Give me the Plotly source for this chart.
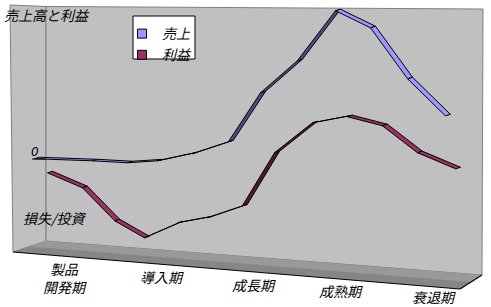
import plotly.graph_objects as go

# ---------------- data ----------------
SERIES_NAMES = ["売上", "利益"]
# time position (stage units) and value (relative, peak of sales = 100)
SALES_T = [0, 1.66, 2.66, 3.51, 4.51, 5.54, 6.46, 7.51, 8.6, 9.6, 10.66, 11.74]
SALES_V = [0, -1.4, -2.7, -1.4, 3.4, 11.5, 44.6, 66.2, 100, 88.5, 54, 29]
PROFIT_T = [0.37, 1.37, 2.29, 3.14, 4.09, 4.94, 5.94, 6.86, 7.94, 8.94, 9.94, 10.94, 12.03]
PROFIT_V = [-9.5, -19.6, -41.9, -53.4, -43.2, -39.9, -31.8, 4.1, 24.3, 28.4, 22.3, 4.1, -6.8]
STAGE_LABELS = ["製品<br>開発期", "導入期", "成長期", "成熟期", "衰退期"]
STAGE_T = [0.8, 3.57, 6.2, 8.69, 11.34]
STAGE_LABEL_Y = [278, 277, 285, 291, 297]   # label centre, pixels from top
Y_TITLE_TOP = "売上高と利益"
Y_TITLE_BOTTOM = "損失/投資"
ZERO_LABEL = "0"

# ---------------- geometry / style ----------------
W, H = 491, 307
X0_PX, X_SCALE = 37, 35.0      # px of t=0, px per t unit
Y0_PX, Y_SCALE = 158, 1.48     # px of v=0, px per value unit
FONT = "Noto Sans CJK JP"

def px(x, y):
    return x / W, 1 - y / H

def path(points):
    s = ""
    for i, (x, y) in enumerate(points):
        a, b = px(x, y)
        s += ("M" if i == 0 else "L") + f"{a:.5f},{b:.5f} "
    return s + "Z"

fig = go.Figure()

# ribbon segments (3-D look): offset in depth direction (pixels, y down)
OX_PX, OY_PX = 5.0, -1.5
odt, odv = OX_PX / X_SCALE, -OY_PX / Y_SCALE

def add_ribbon(ts, vs, light, dark):
    for i in range(len(ts) - 1):
        t0, v0, t1, v1 = ts[i], vs[i], ts[i + 1], vs[i + 1]
        dxp = (t1 - t0) * X_SCALE
        dyp = -(v1 - v0) * Y_SCALE
        cross = dxp * OY_PX - dyp * OX_PX
        col = dark if cross > 0 else light
        xs = [t0 - odt / 2, t1 - odt / 2, t1 + odt / 2, t0 + odt / 2, t0 - odt / 2]
        ys = [v0 - odv / 2, v1 - odv / 2, v1 + odv / 2, v0 + odv / 2, v0 - odv / 2]
        fig.add_trace(go.Scatter(x=xs, y=ys, mode="lines", fill="toself",
                                 fillcolor=col, line=dict(color="black", width=1),
                                 showlegend=False, hoverinfo="skip"))

add_ribbon(SALES_T, SALES_V, "#9999ff", "#4d4d85")
add_ribbon(PROFIT_T, PROFIT_V, "#993366", "#4d1a33")

for name, col in zip(SERIES_NAMES, ["#9999ff", "#993366"]):
    fig.add_trace(go.Scatter(x=[None], y=[None], mode="markers", name=f"<i>{name}</i>",
                             marker=dict(symbol="square", size=9, color=col,
                                         line=dict(color="black", width=1))))

shapes = []
# left side wall
shapes.append(dict(type="path", xref="paper", yref="paper", layer="below",
                   path=path([(10, 5), (46, 6.5), (46, 241), (13, 252)]),
                   fillcolor="#c0c0c0", line=dict(color="#808080", width=1)))
# back wall
shapes.append(dict(type="path", xref="paper", yref="paper", layer="below",
                   path=path([(46, 6.5), (483, 9), (482, 275), (46, 241)]),
                   fillcolor="#c0c0c0", line=dict(color="#808080", width=1)))
# floor (two tones)
shapes.append(dict(type="path", xref="paper", yref="paper", layer="below",
                   path=path([(13, 252), (46, 241), (482, 275), (460, 289)]),
                   fillcolor="#868686", line=dict(width=0)))
shapes.append(dict(type="path", xref="paper", yref="paper", layer="below",
                   path=path([(30, 246.5), (46, 241), (482, 275), (471, 282)]),
                   fillcolor="#999999", line=dict(width=0)))
# floor front edge
for (a, b) in [((13, 252), (460, 289)), ((460, 289), (482, 275))]:
    x0, y0 = px(*a); x1, y1 = px(*b)
    shapes.append(dict(type="line", xref="paper", yref="paper", x0=x0, y0=y0, x1=x1, y1=y1,
                       line=dict(color="black", width=1.2)))
# zero tick
x0, y0 = px(32, Y0_PX + 1); x1, y1 = px(46, Y0_PX + 1)
shapes.append(dict(type="line", xref="paper", yref="paper", x0=x0, y0=y0, x1=x1, y1=y1,
                   line=dict(color="black", width=1)))
# legend box
x0, y0 = px(133, 16); x1, y1 = px(195, 59)
shapes.append(dict(type="rect", xref="paper", yref="paper", layer="above",
                   x0=x0, y0=y1, x1=x1, y1=y0,
                   fillcolor="white", line=dict(color="black", width=1)))

ann = []
font14 = dict(family=FONT, size=14, color="black")
for lab, t, yy in zip(STAGE_LABELS, STAGE_T, STAGE_LABEL_Y):
    txt = "<br>".join(f"<i>{p}</i>" for p in lab.split("<br>"))
    ann.append(dict(x=t, xref="x", y=1 - yy / H, yref="paper", text=txt, showarrow=False,
                    font=font14, xanchor="center", yanchor="middle", align="center"))
a, b = px(2, 15)
ann.append(dict(x=a, y=b, xref="paper", yref="paper", text=f"<i>{Y_TITLE_TOP}</i>",
                showarrow=False, font=font14, xanchor="left", yanchor="middle"))
a, b = px(21, 218)
ann.append(dict(x=a, y=b, xref="paper", yref="paper", text=f"<i>{Y_TITLE_BOTTOM}</i>",
                showarrow=False, font=font14, xanchor="left", yanchor="middle"))
a, b = px(35, 152)
ann.append(dict(x=a, y=b, xref="paper", yref="paper", text=f"<i>{ZERO_LABEL}</i>",
                showarrow=False, font=dict(family="DejaVu Sans", size=12, color="black"),
                xanchor="center", yanchor="middle"))

lx, ly = px(122, 18)
fig.update_layout(
    width=W, height=H, autosize=False,
    margin=dict(l=0, r=0, t=0, b=0, pad=0),
    paper_bgcolor="white", plot_bgcolor="rgba(0,0,0,0)",
    xaxis=dict(range=[-X0_PX / X_SCALE, (W - X0_PX) / X_SCALE], visible=False, domain=[0, 1]),
    yaxis=dict(range=[(Y0_PX - H) / Y_SCALE, Y0_PX / Y_SCALE], visible=False, domain=[0, 1]),
    shapes=shapes, annotations=ann,
    legend=dict(x=lx, y=ly, xanchor="left", yanchor="top", bgcolor="rgba(0,0,0,0)",
                borderwidth=0, itemwidth=30,
                font=dict(family=FONT, size=14, color="black"),
                tracegroupgap=0),
    showlegend=True,
)
fig.write_html("out.html")
